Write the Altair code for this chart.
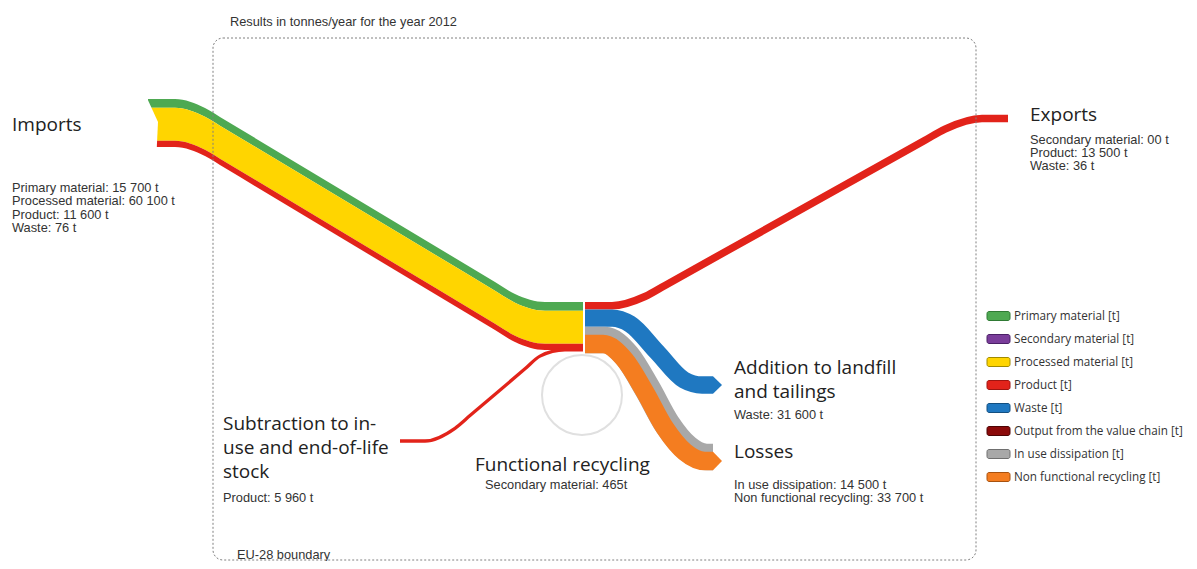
import altair as alt
import pandas as pd

# ---------------- data (t/year, EU-28, 2012) ----------------
import_labels = ["Primary material", "Processed material", "Product", "Waste"]
import_values = [15700, 60100, 11600, 76]
export_labels = ["Secondary material", "Product", "Waste"]
export_texts = ["00 t", "13 500 t", "36 t"]
export_product = 13500
landfill_waste = 31600
loss_labels = ["In use dissipation", "Non functional recycling"]
loss_values = [14500, 33700]
stock_product = 5960
recycling_secondary = 465

legend_labels = ["Primary material [t]", "Secondary material [t]", "Processed material [t]",
                 "Product [t]", "Waste [t]", "Output from the value chain [t]",
                 "In use dissipation [t]", "Non functional recycling [t]"]
legend_colors = ["#4ea952", "#7a3d9a", "#ffd500", "#e2231a", "#1f78c1", "#8b0a0a",
                 "#a8a8a8", "#f47d20"]
legend_borders = ["#2f7a34", "#4a2066", "#a08a00", "#9e1510", "#134f80", "#4d0505",
                  "#6f6f6f", "#a8520f"]
C = dict(zip(["primary", "secondary", "processed", "product", "waste", "output", "inuse", "nonfunc"],
             legend_colors))

# ---------------- layout (pixel-like layout coordinates) ----------------
K = 0.00055            # band thickness per tonne
JX = 583               # junction
JY = 302               # junction top
XD = [8, 1189]
YD = [8, 561]
SMALL = 12.8
BIG = 19


def fmt(v):
    return f"{v:,}".replace(",", " ") + " t"


def X(f="x"):
    return alt.X(f"{f}:Q", scale=alt.Scale(domain=XD, nice=False, zero=False), axis=None)


def Y(f="y"):
    return alt.Y(f"{f}:Q", scale=alt.Scale(domain=YD, nice=False, zero=False, reverse=True),
                 axis=None)


# imports band (top edge route)
imp_route_x = [148, 175, 205, 225, 495, 515, 545, JX]
imp_route_top = [99, 99, 108, 120, 282, 294, JY, JY]
imp_colors = [C["primary"], C["processed"], C["product"], C["waste"]]
imp_layers = []
cum = 0.0
for lab, val, col in zip(import_labels, import_values, imp_colors):
    t0, t1 = cum, cum + val * K
    df = pd.DataFrame({"x": imp_route_x,
                       "y": [yt + t0 for yt in imp_route_top],
                       "y2": [yt + t1 for yt in imp_route_top]})
    imp_layers.append((df, col))
    cum = t1
imp_bottom = JY + cum

# outgoing flows, stacked at the junction
w_exp = export_product * K
w_waste = landfill_waste * K
w_grey = loss_values[0] * K
w_orange = loss_values[1] * K
w_sub = stock_product * K
c_exp = JY + w_exp / 2
c_blue = JY + w_exp + w_waste / 2
c_orange = JY + w_exp + w_waste + w_grey + w_orange / 2
c_grey = c_orange - w_grey / 2
c_sub = imp_bottom + w_sub / 2 - 2

RX = JX + 2
routes = {
    "export": (C["product"], w_exp,
               [(RX, c_exp), (612, c_exp), (645, 296.5), (665, 285.4), (925, 140.3),
                (945, 129.1), (982, 118.5), (1008, 118.5)]),
    "subtraction": (C["product"], w_sub,
                    [(400, 441), (425, 441), (455, 428.3), (470, 415.6), (525, 368.8),
                     (540, 356.1), (565, c_sub), (JX, c_sub)]),
    "waste": (C["waste"], w_waste,
              [(RX, c_blue), (612, c_blue), (630, 324), (657, 352), (684, 380),
               (702, 385), (713, 385)]),
    "inuse": (C["inuse"], w_grey + w_orange,
              [(RX, c_grey), (605, c_grey), (627, 356), (647, 388), (667, 424),
               (687, 448), (707, 457), (713, 457)]),
    "nonfunc": (C["nonfunc"], w_orange,
                [(RX, c_orange), (603, c_orange), (625, 360), (645, 392), (665, 428),
                 (685, 452), (705, 461), (713, 461)]),
}


def route_layer(name):
    col, w, pts = routes[name]
    df = pd.DataFrame([{"x": x, "y": y, "w": w} for x, y in pts])
    return alt.Chart(df).mark_line(interpolate="monotone", strokeCap="butt", color=col).encode(
        x=X(), y=Y(), strokeWidth=alt.StrokeWidth("w:Q", scale=None))


def area_layer(df, col, interp="monotone"):
    return alt.Chart(df).mark_area(interpolate=interp, color=col, opacity=1).encode(
        x=X(), y=Y(), y2=alt.Y2("y2:Q"))


layers = []

# functional recycling circle
layers.append(alt.Chart(pd.DataFrame({"x": [582], "y": [395]})).mark_point(
    shape="circle", size=6400, filled=False, stroke="#e0e0e0", strokeWidth=2, opacity=1
).encode(x=X(), y=Y()))

# imports band
for df, col in imp_layers:
    layers.append(area_layer(df, col))

# notch of the imports arrow tail
layers.append(area_layer(pd.DataFrame({"x": [147, 158], "y": [98, 122],
                                       "y2": [imp_bottom + 1, 122]}), "#ffffff", "linear"))

for nm in ["subtraction", "export", "waste", "inuse", "nonfunc"]:
    layers.append(route_layer(nm))

# arrow tips
for cy, w, col in [(385, w_waste, C["waste"]), (461, w_orange, C["nonfunc"])]:
    layers.append(area_layer(pd.DataFrame({"x": [713, 722], "y": [cy - w / 2, cy],
                                           "y2": [cy + w / 2, cy]}), col, "linear"))

# EU-28 boundary
layers.append(alt.Chart(pd.DataFrame({"x": [213], "x2": [976], "y": [38], "y2": [560]})).mark_rect(
    cornerRadius=10, fillOpacity=0, stroke="#808080", strokeWidth=1, strokeDash=[2, 2]
).encode(x=X(), x2="x2:Q", y=Y(), y2="y2:Q"))

# big labels
big = [
    ("Imports", 12, 125), ("Exports", 1030, 115),
    ("Addition to landfill", 734, 368), ("and tailings", 734, 392),
    ("Losses", 734, 452),
    ("Subtraction to in-", 223, 424), ("use and end-of-life", 223, 448), ("stock", 223, 472),
    ("Functional recycling", 475, 465),
]
big_df = pd.DataFrame(big, columns=["text", "x", "y"])
layers.append(alt.Chart(big_df).mark_text(
    align="left", baseline="middle", font="Open Sans", fontSize=BIG, color="#222222"
).encode(x=X(), y=Y(), text="text:N"))

# detail labels
small = []
for i, (lab, val) in enumerate(zip(import_labels, import_values)):
    small.append((f"{lab}: {fmt(val)}", 12, 188 + 13.4 * i))
for i, (lab, t) in enumerate(zip(export_labels, export_texts)):
    small.append((f"{lab}: {t}", 1030, 140 + 12.8 * i))
small.append((f"Waste: {fmt(landfill_waste)}", 734, 415))
for i, (lab, val) in enumerate(zip(loss_labels, loss_values)):
    small.append((f"{lab}: {fmt(val)}", 734, 485 + 13.4 * i))
small.append((f"Product: {fmt(stock_product)}", 223, 498))
small.append((f"Secondary material: {recycling_secondary}t", 485, 485))
small.append(("Results in tonnes/year for the year 2012", 230, 22))
small.append(("EU-28 boundary", 237, 555))
small_df = pd.DataFrame(small, columns=["text", "x", "y"])
layers.append(alt.Chart(small_df).mark_text(
    align="left", baseline="middle", font="Liberation Sans", fontSize=SMALL, color="#333333"
).encode(x=X(), y=Y(), text="text:N"))

# legend
leg_df = pd.DataFrame({
    "label": legend_labels, "fill": legend_colors, "border": legend_borders,
    "x": [987] * 8, "x2": [1010] * 8, "tx": [1014] * 8,
    "cy": [316 + 23 * i for i in range(8)],
})
leg_df["y"] = leg_df["cy"] - 4.5
leg_df["y2"] = leg_df["cy"] + 4.5
layers.append(alt.Chart(leg_df).mark_rect(cornerRadius=2, strokeWidth=1).encode(
    x=X(), x2="x2:Q", y=Y(), y2="y2:Q",
    fill=alt.Fill("fill:N", scale=None), stroke=alt.Stroke("border:N", scale=None)))
layers.append(alt.Chart(leg_df).mark_text(
    align="left", baseline="middle", font="Open Sans", fontSize=11.7, color="#333333"
).encode(x=X("tx"), y=Y("cy"), text="label:N"))

chart = alt.layer(*layers).properties(
    width=1181, height=553, padding=0, autosize="none", background="white"
).configure_view(stroke=None)

chart.save("out.html", embed_options={"renderer": "svg", "actions": False})
